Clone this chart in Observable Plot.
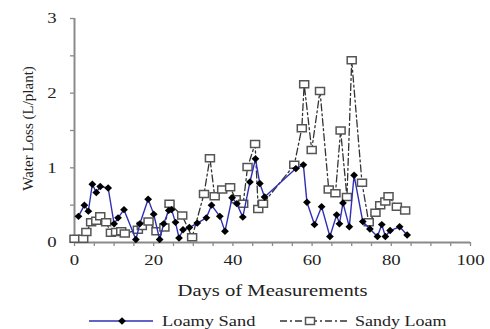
<!DOCTYPE html>
<html><head><meta charset="utf-8">
<script src="https://cdn.jsdelivr.net/npm/d3@7"></script>
<script src="https://cdn.jsdelivr.net/npm/@observablehq/plot@0.6"></script>
<style>
body{margin:0;background:#fff;}
#chart{width:490px;height:329px;overflow:hidden;}
#chart svg{display:block;}
#chart svg text{font-family:"Liberation Serif","DejaVu Serif","Times New Roman",serif;}
</style>
</head><body><div id="chart"></div>
<script>
// ---- data ----
const loamySandDays = [1,2.5,3.5,4.5,5.5,6.5,8.5,10,11,12.5,15.5,16.5,18.6,20,21.5,22.5,23.8,24.5,25.5,26.4,27.4,29,31,33.3,34.6,36.7,38,39.8,41,42.5,44.3,45.7,46.8,48,55.9,57.8,58.7,60.6,62.4,64.5,66.2,66.9,67.8,69.4,70.6,72.8,74.6,76.5,77.6,78.5,79.7,82.1,84];
const loamySandLoss = [0.35,0.50,0.42,0.78,0.67,0.75,0.73,0.25,0.33,0.44,0.04,0.25,0.58,0.38,0.04,0.25,0.43,0.44,0.27,0.06,0.17,0.20,0.26,0.33,0.50,0.35,0.15,0.60,0.52,0.34,0.81,1.12,0.79,0.61,0.99,1.04,0.54,0.24,0.48,0.08,0.37,0.25,0.53,0.21,0.90,0.28,0.18,0.08,0.24,0.08,0.16,0.21,0.10];
const sandyLoamDays = [0,2.2,3,4.2,5.5,6.5,8,9.2,10.5,11.8,12.7,16,17,18.7,20.7,22.7,24,27.2,29.7,32.7,34.2,35.4,37.3,39.3,40.7,42.6,43.7,45.6,46.4,47.6,55.5,57.4,58,59.9,62,64.2,65.9,67.2,68.8,70,72.6,74.3,76,77.2,78.5,79.3,81.4,83.5];
const sandyLoamLoss = [0.05,0.05,0.14,0.27,0.29,0.35,0.27,0.13,0.14,0.15,0.12,0.17,0.22,0.28,0.15,0.20,0.52,0.36,0.07,0.65,1.13,0.62,0.71,0.74,0.58,0.52,1.01,1.32,0.45,0.52,1.04,1.53,2.12,1.24,2.03,0.71,0.66,1.50,0.61,2.44,0.80,0.27,0.40,0.50,0.55,0.62,0.48,0.43];
const xTickLabels = [0,20,40,60,80,100];
const yTickLabels = [0,1,2,3];
const seriesNames = ["Loamy Sand","Sandy Loam"];
const xTitle = "Days of Measurements";
const yTitle = "Water Loss (L/plant)";

const loamy = loamySandDays.map((d,i)=>({day:d, loss:loamySandLoss[i]}));
const sandy = sandyLoamDays.map((d,i)=>({day:d, loss:sandyLoamLoss[i]}));

const serif = '"Liberation Serif","DejaVu Serif","Times New Roman",serif';
const blue = "#2f2fb5";
const axisGray = "#8a8a8a";
const dashDot = "7,3,2,3";

// custom marker shapes (image is slightly wider than tall)
const wideSquare = {draw(ctx){ ctx.rect(-4.5,-3.5,9,7); }};
const diamond = {draw(ctx){ ctx.moveTo(0,-3.7); ctx.lineTo(3.9,0); ctx.lineTo(0,3.7); ctx.lineTo(-3.9,0); ctx.closePath(); }};

const H = 308;
const chart = Plot.plot({
  width: 490, height: H,
  marginLeft: 74, marginRight: 20, marginTop: 18, marginBottom: H - 242,
  style: {fontFamily: serif, fontSize: "15px", color: "#222", background: "#fff"},
  x: {domain: [0,100]},
  y: {domain: [0,3]},
  marks: [
    Plot.axisX({ticks: d3.range(0,101,5), tickFormat: d => xTickLabels.includes(d) ? String(d) : "", tickSize: 4, tickPadding: 8, stroke: axisGray, strokeWidth: 1.3, label: null, className: "xax"}),
    Plot.axisY({ticks: d3.range(0,3.01,0.5), tickFormat: d => yTickLabels.includes(d) ? String(d) : "", tickSize: 4, tickPadding: 14, stroke: axisGray, strokeWidth: 1.3, label: null, className: "yax"}),
    Plot.ruleY([0], {stroke: axisGray, strokeWidth: 2}),
    Plot.ruleX([0], {stroke: axisGray, strokeWidth: 2}),
    Plot.line(sandy, {x: "day", y: "loss", stroke: "#333", strokeWidth: 1.3, strokeDasharray: dashDot}),
    Plot.dot(sandy, {x: "day", y: "loss", symbol: wideSquare, r: 3, fill: "#fff", stroke: "#555", strokeWidth: 1.5}),
    Plot.line(loamy, {x: "day", y: "loss", stroke: blue, strokeWidth: 1.4}),
    Plot.dot(loamy, {x: "day", y: "loss", symbol: diamond, r: 3, fill: "#000", stroke: "none"}),
    Plot.text([xTitle], {frameAnchor: "bottom", dy: 48, lineAnchor: "middle", fontSize: 16, fill: "#222", className: "xtitle"}),
    Plot.text([yTitle], {frameAnchor: "left", dx: -46, dy: -2, rotate: -90, textAnchor: "middle", lineAnchor: "middle", fontSize: 15, fill: "#222", className: "ytitle"})
  ]
});
const host = document.getElementById("chart");
host.appendChild(chart);

// legend below the plot
const LH = 329 - H;
const leg = d3.select(host).append("svg").attr("width", 490).attr("height", LH)
  .style("font-family", serif).style("font-size", "15px");
const cy = 13;
const pathOf = sym => { const p = d3.path(); sym.draw(p); return p.toString(); };
leg.append("line").attr("x1", 89).attr("x2", 153).attr("y1", cy).attr("y2", cy).attr("stroke", blue).attr("stroke-width", 1.4);
leg.append("path").attr("d", pathOf(diamond)).attr("transform", `translate(122,${cy})`).attr("fill", "#000");
const t1 = leg.append("text").attr("x", 162).attr("y", cy + 5).attr("fill", "#222").text(seriesNames[0]);
leg.append("line").attr("x1", 280).attr("x2", 347).attr("y1", cy).attr("y2", cy).attr("stroke", "#333").attr("stroke-width", 1.3).attr("stroke-dasharray", dashDot);
leg.append("path").attr("d", pathOf(wideSquare)).attr("transform", `translate(310,${cy})`).attr("fill", "#fff").attr("stroke", "#555").attr("stroke-width", 1.5);
const t2 = leg.append("text").attr("x", 355).attr("y", cy + 5).attr("fill", "#222").text(seriesNames[1]);

// the reference image is horizontally stretched: widen horizontal texts by wrapping them in a scaled group
function stretch(el, factor) {
  const bb = el.getBBox();
  if (bb.width <= 0) return;
  const k = typeof factor === "function" ? factor(bb.width) : factor;
  let m = {e: 0, f: 0};
  if (el.transform && el.transform.baseVal.numberOfItems) m = el.transform.baseVal.consolidate().matrix;
  const anchor = getComputedStyle(el).textAnchor;
  const lx = anchor === "end" ? bb.x + bb.width : anchor === "middle" ? bb.x + bb.width / 2 : bb.x;
  const ax = lx + m.e;
  const g = document.createElementNS("http://www.w3.org/2000/svg", "g");
  g.setAttribute("transform", `translate(${ax},0) scale(${k},1) translate(${-ax},0)`);
  el.parentNode.insertBefore(g, el);
  g.appendChild(el);
}
d3.select(chart).selectAll(".xax text, .yax text").each(function(){ stretch(this, 1.25); });
d3.select(chart).selectAll(".xtitle text").each(function(){ stretch(this, w => 190 / w); });
stretch(t1.node(), w => 94 / w);
stretch(t2.node(), w => 92 / w);
</script>
</body></html>
